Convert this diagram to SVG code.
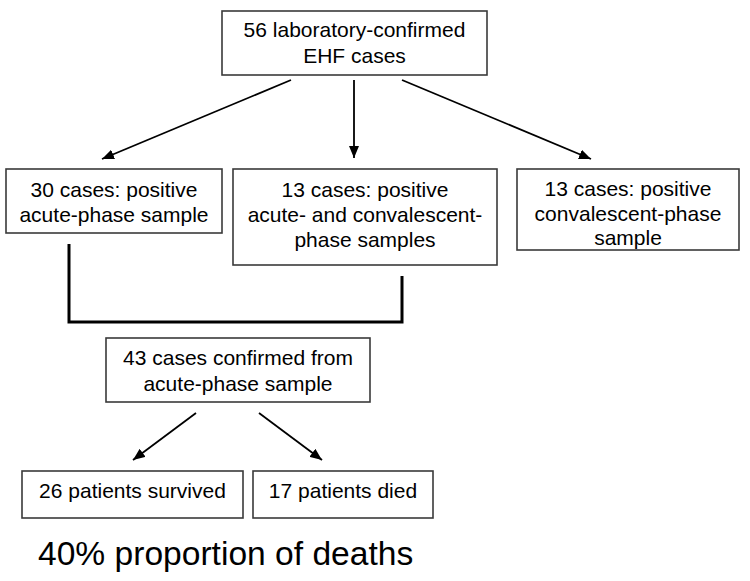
<svg xmlns="http://www.w3.org/2000/svg" width="750" height="581" viewBox="0 0 750 581">
<defs>
<marker id="ah" viewBox="0 0 12 10" refX="12" refY="5" markerWidth="12" markerHeight="10" markerUnits="userSpaceOnUse" orient="auto">
<path d="M0,0 L12,5 L0,10 Z" fill="#000"/>
</marker>
<style>
.box{fill:#fff;stroke:#3a3a3a;stroke-width:1.6}
.t{font-family:"Liberation Sans",Arial,sans-serif;font-size:21px;fill:#000;text-anchor:middle}
.arr{stroke:#000;stroke-width:1.8;fill:none;marker-end:url(#ah)}
.br{stroke:#000;stroke-width:3;fill:none}
</style>
</defs>
<rect width="750" height="581" fill="#fff"/>
<g id="connectors">
<line class="arr" x1="291" y1="80" x2="102" y2="159"/>
<line class="arr" x1="354" y1="80" x2="354" y2="158"/>
<line class="arr" x1="402" y1="80" x2="591" y2="159"/>
<path class="br" d="M69,244 V322 H402 V276"/>
<line class="arr" x1="196" y1="413" x2="133" y2="460"/>
<line class="arr" x1="259" y1="413" x2="322" y2="460"/>
</g>
<g id="n56">
<rect class="box" x="222" y="11" width="265" height="64"/>
<text class="t" x="354.5" y="37">56 laboratory-confirmed</text>
<text class="t" x="354.5" y="63">EHF cases</text>
</g>
<g id="n30">
<rect class="box" x="6" y="169" width="216" height="64"/>
<text class="t" x="114" y="197">30 cases: positive</text>
<text class="t" x="114" y="222">acute-phase sample</text>
</g>
<g id="n13a">
<rect class="box" x="233" y="169" width="264" height="96"/>
<text class="t" x="365" y="197">13 cases: positive</text>
<text class="t" x="365" y="222">acute- and convalescent-</text>
<text class="t" x="365" y="247">phase samples</text>
</g>
<g id="n13c">
<rect class="box" x="517" y="169" width="222" height="81"/>
<text class="t" x="628" y="196">13 cases: positive</text>
<text class="t" x="628" y="221">convalescent-phase</text>
<text class="t" x="628" y="245">sample</text>
</g>
<g id="n43">
<rect class="box" x="106" y="338" width="264" height="64"/>
<text class="t" x="238" y="365">43 cases confirmed from</text>
<text class="t" x="238" y="391">acute-phase sample</text>
</g>
<g id="n26">
<rect class="box" x="22" y="471" width="221" height="47"/>
<text class="t" x="132.5" y="498">26 patients survived</text>
</g>
<g id="n17">
<rect class="box" x="253" y="471" width="180" height="47"/>
<text class="t" x="343" y="498">17 patients died</text>
</g>
<text x="38" y="565" style="font-family:'Liberation Sans',Arial,sans-serif;font-size:33.6px;fill:#000">40% proportion of deaths</text>
</svg>
